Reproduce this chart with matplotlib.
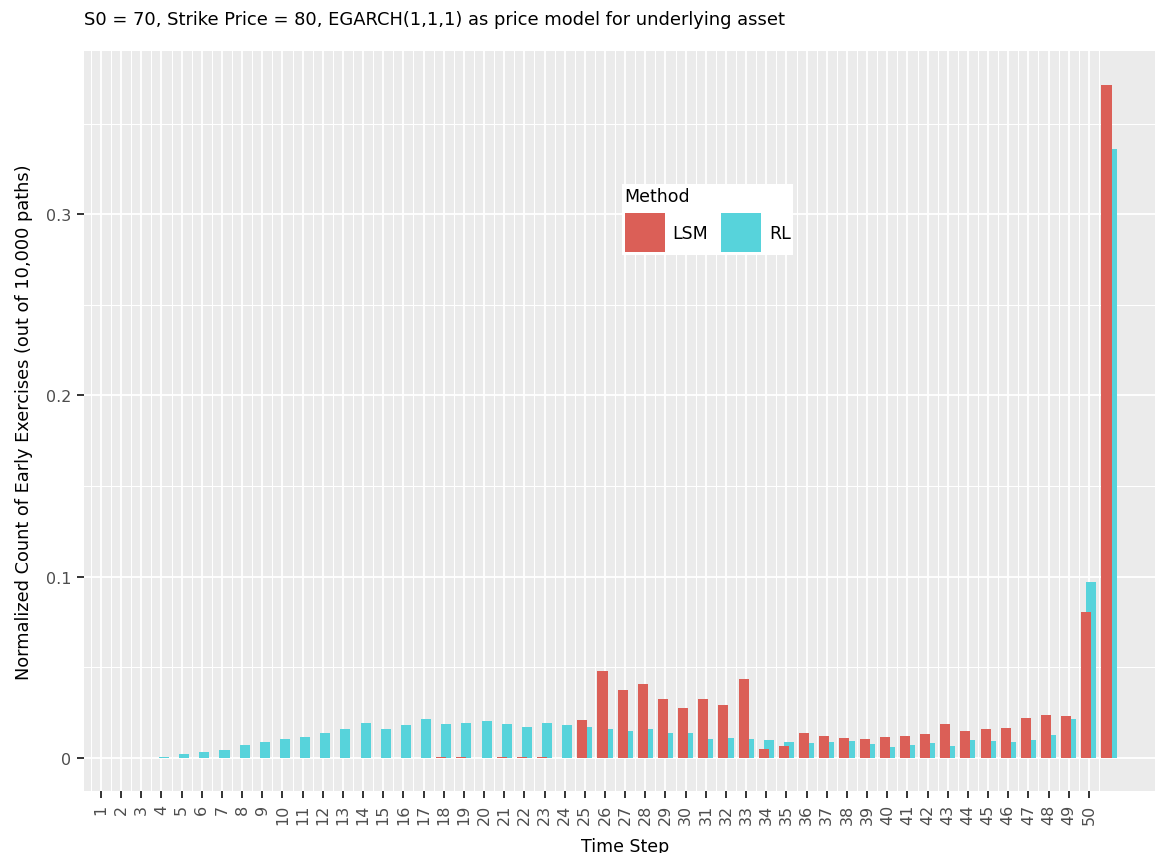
import matplotlib
matplotlib.use("Agg")
import matplotlib.pyplot as plt
from matplotlib.patches import Patch
import numpy as np

steps = list(range(1, 52))
tick_labels = [str(i) for i in range(1, 51)]

lsm = [0, 0, 0, 0, 0, 0, 0, 0, 0, 0,
       0, 0, 0, 0, 0, 0, 0, 0.0005, 0.0005, 0,
       0.0005, 0.0005, 0.0008, 0, 0.0207, 0.0480, 0.0375, 0.0408, 0.0324, 0.0274,
       0.0324, 0.0294, 0.0436, 0.0051, 0.0066, 0.0136, 0.0120, 0.0110, 0.0103, 0.0116,
       0.0120, 0.0135, 0.0190, 0.0151, 0.0158, 0.0167, 0.0220, 0.0239, 0.0232, 0.0804,
       0.3712]
rl = [0, 0, 0, 0.0008, 0.0024, 0.0033, 0.0046, 0.0070, 0.0087, 0.0103,
      0.0116, 0.0138, 0.0162, 0.0195, 0.0162, 0.0182, 0.0213, 0.0190, 0.0193, 0.0206,
      0.0190, 0.0169, 0.0195, 0.0180, 0.0169, 0.0159, 0.0148, 0.0160, 0.0138, 0.0138,
      0.0105, 0.0109, 0.0103, 0.0099, 0.0088, 0.0085, 0.0087, 0.0094, 0.0076, 0.0063,
      0.0074, 0.0081, 0.0066, 0.0101, 0.0094, 0.0087, 0.0098, 0.0127, 0.0213, 0.0969,
      0.3359]

methods = ["LSM", "RL"]
colors = {"LSM": "#db5f57", "RL": "#57d3db"}

W, H = 1155, 854
fig = plt.figure(figsize=(W / 100, H / 100), dpi=100)
ax = fig.add_axes([84 / W, (H - 792) / H, (W - 84) / W, (792 - 52) / H])
ax.set_facecolor("#ebebeb")

x = np.array(steps, dtype=float)
bw = 0.5
off = 0.125
ax.bar(x + off, rl, width=bw, color=colors["RL"], zorder=3, linewidth=0)
ax.bar(x - off, lsm, width=bw, color=colors["LSM"], zorder=4, linewidth=0)

ax.set_xlim(0.157, 53.28)
ax.set_ylim(-0.0182, 0.390)

ax.set_xticks(range(1, 51))
ax.set_xticklabels(tick_labels, rotation=90, fontsize=11.5, color="#4d4d4d")
ax.set_xticks(np.arange(0.5, 51, 1.0), minor=True)
ax.set_yticks([0, 0.1, 0.2, 0.3])
ax.set_yticklabels(["0", "0.1", "0.2", "0.3"], fontsize=11.5, color="#4d4d4d")
ax.set_yticks([0.05, 0.15, 0.25, 0.35], minor=True)

ax.grid(which="major", color="white", linewidth=1.3, zorder=1)
ax.grid(which="minor", color="white", linewidth=0.75, zorder=1)
ax.set_axisbelow(True)
for s in ax.spines.values():
    s.set_visible(False)
ax.tick_params(which="major", length=4.7, width=1.4, color="#333333", pad=4.5)
ax.tick_params(which="minor", length=0)

ax.set_xlabel("Time Step", fontsize=12.5, labelpad=9)
ax.xaxis.label.set_x((625 - 84) / (W - 84))
ax.set_ylabel("Normalized Count of Early Exercises (out of 10,000 paths)", fontsize=12.75, labelpad=9)
ax.set_title("S0 = 70, Strike Price = 80, EGARCH(1,1,1) as price model for underlying asset",
             fontsize=12.9, loc="left", pad=19.5)

handles = [Patch(facecolor=colors[m], edgecolor="none", label=m) for m in methods]
leg = ax.legend(handles=handles, title="Method", ncol=2, loc="upper left",
                bbox_to_anchor=(622 / W, (H - 185) / H), bbox_transform=fig.transFigure,
                fontsize=12.5, title_fontsize=12.5, frameon=True, fancybox=False,
                framealpha=1, facecolor="white", edgecolor="none",
                handlelength=2.3, handleheight=3.05, handletextpad=0.45,
                columnspacing=0.75, borderpad=0.15, borderaxespad=0)
leg._legend_box.align = "left"
leg.set_zorder(10)

fig.savefig("out.png", dpi=100, facecolor="white")
